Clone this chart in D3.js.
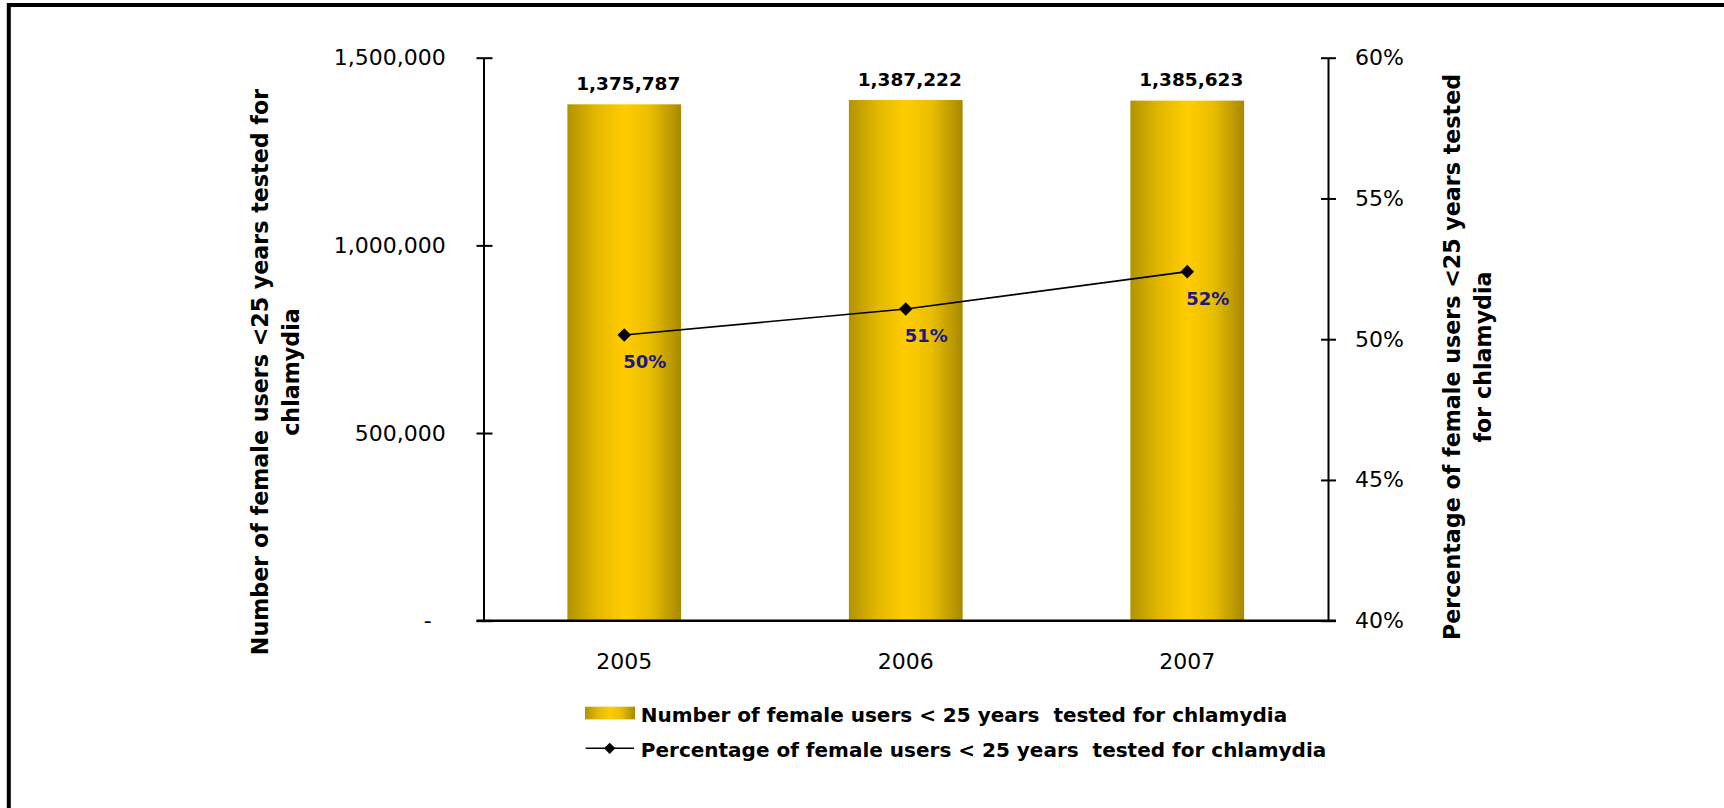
<!DOCTYPE html>
<html>
<head>
<meta charset="utf-8">
<script src="https://cdn.jsdelivr.net/npm/d3@7"></script>
<style>
  body { margin: 0; background: #fff; }
  text { white-space: pre; }
</style>
</head>
<body>
<svg id="chart" width="1724" height="808"></svg>
<script>
// Chlamydia testing among female users under 25, by year
const years = ["2005", "2006", "2007"];
const testedCounts = [1375787, 1387222, 1385623];
const testedShares = [0.5015, 0.5107, 0.5240];
const countTicks = [0, 500000, 1000000, 1500000];
const shareTicks = [0.40, 0.45, 0.50, 0.55, 0.60];
const countTitle = ["Number of female users <25 years tested for", "chlamydia"];
const shareTitle = ["Percentage of female users <25 years tested", "for chlamydia"];
const legendLabels = [
  "Number of female users < 25 years  tested for chlamydia",
  "Percentage of female users < 25 years  tested for chlamydia"
];

const svg = d3.select("#chart");
const plot = { left: 483.5, right: 1328, top: 57.7, bottom: 620.7 };
const tickFont = "'DejaVu Sans', Verdana, sans-serif";

const x = d3.scaleBand().domain(years)
  .range([plot.left, plot.right])
  .paddingInner(0.596).paddingOuter(0.298);
const yCount = d3.scaleLinear().domain([0, 1500000]).range([plot.bottom, plot.top]);
const yShare = d3.scaleLinear().domain([0.40, 0.60]).range([plot.bottom, plot.top]);
const cx = d => x(d) + x.bandwidth() / 2;

// gold metallic fill for the bars
const defs = svg.append("defs");
const grad = defs.append("linearGradient").attr("id", "barGold")
  .attr("x1", 0).attr("x2", 1).attr("y1", 0).attr("y2", 0);
[[0, "#b09300"], [0.25, "#e2b800"], [0.5, "#ffcc00"], [0.72, "#eabf00"], [1, "#a88900"]]
  .forEach(([o, c]) => grad.append("stop").attr("offset", o).attr("stop-color", c));

// outer frame
svg.append("rect").attr("x", 8.8).attr("y", 5).attr("width", 1800).attr("height", 900)
  .attr("fill", "none").attr("stroke", "#000").attr("stroke-width", 4);

// bars
svg.append("g").selectAll("rect").data(years).join("rect")
  .attr("x", d => x(d))
  .attr("y", (d, i) => yCount(testedCounts[i]))
  .attr("width", x.bandwidth())
  .attr("height", (d, i) => yCount(0) - yCount(testedCounts[i]))
  .attr("fill", "url(#barGold)");

// left axis (counts)
const axL = svg.append("g").attr("transform", `translate(${plot.left},0)`)
  .call(d3.axisLeft(yCount).tickValues(countTicks).tickSize(7).tickSizeOuter(0)
    .tickFormat(d => d === 0 ? "-  " : d3.format(",")(d)));
axL.attr("font-family", tickFont).attr("font-size", 22);
axL.select(".domain").attr("stroke", "#000").attr("stroke-width", 2);
axL.selectAll(".tick line").attr("x1", -7).attr("x2", 9).attr("stroke", "#000").attr("stroke-width", 2);
axL.selectAll(".tick text").attr("x", -37.8).attr("fill", "#000");

// right axis (percentages)
const axR = svg.append("g").attr("transform", `translate(${plot.right},0)`)
  .call(d3.axisRight(yShare).tickValues(shareTicks).tickSize(8).tickSizeOuter(0)
    .tickFormat(d3.format(".0%")));
axR.attr("font-family", tickFont).attr("font-size", 22);
axR.select(".domain").attr("stroke", "#000").attr("stroke-width", 2);
axR.selectAll(".tick line").attr("x1", -7).attr("x2", 8).attr("stroke", "#000").attr("stroke-width", 2);
axR.selectAll(".tick text").attr("x", 27).attr("fill", "#000");

// category axis
svg.append("line")
  .attr("x1", plot.left - 7).attr("x2", plot.right + 8)
  .attr("y1", plot.bottom).attr("y2", plot.bottom)
  .attr("stroke", "#000").attr("stroke-width", 2.5);
const axB = svg.append("g").attr("transform", `translate(0,${plot.bottom})`)
  .call(d3.axisBottom(x).tickSize(0));
axB.attr("font-family", tickFont).attr("font-size", 22);
axB.select(".domain").remove();
axB.selectAll(".tick text").attr("y", 48.6).attr("dy", 0).attr("fill", "#000");

// value labels above bars
svg.append("g").selectAll("text").data(years).join("text")
  .attr("x", d => cx(d) + 4)
  .attr("y", (d, i) => yCount(testedCounts[i]) - 14.5)
  .attr("text-anchor", "middle")
  .attr("font-family", tickFont).attr("font-weight", "bold").attr("font-size", 18.5)
  .attr("fill", "#000")
  .text((d, i) => d3.format(",")(testedCounts[i]));

// percentage line with diamond markers
const line = d3.line().x((d, i) => cx(years[i])).y(d => yShare(d));
svg.append("path").datum(testedShares)
  .attr("d", line).attr("fill", "none").attr("stroke", "#000").attr("stroke-width", 1.6);
const diamond = d3.symbol(d3.symbolSquare, 92);
svg.append("g").selectAll("path").data(testedShares).join("path")
  .attr("d", diamond)
  .attr("transform", (d, i) => `translate(${cx(years[i])},${yShare(d)}) rotate(45)`)
  .attr("fill", "#000");
svg.append("g").selectAll("text").data(testedShares).join("text")
  .attr("x", (d, i) => cx(years[i]) - 1)
  .attr("y", d => yShare(d) + 33)
  .attr("font-family", tickFont).attr("font-weight", "bold").attr("font-size", 18)
  .attr("fill", "#1a1a80")
  .text(d => d3.format(".0%")(d));

// axis titles
function rotatedTitle(lines, xs, cy) {
  lines.forEach((t, i) => {
    svg.append("text")
      .attr("transform", `translate(${xs[i]},${cy}) rotate(-90)`)
      .attr("text-anchor", "middle")
      .attr("font-family", tickFont).attr("font-weight", "bold").attr("font-size", 22.2)
      .attr("fill", "#000")
      .text(t);
  });
}
rotatedTitle(countTitle, [268, 299], 372);
rotatedTitle(shareTitle, [1460, 1491], 357);

// legend
const lg = svg.append("g").attr("font-family", tickFont).attr("font-weight", "bold").attr("font-size", 20);
lg.append("rect").attr("x", 585).attr("y", 706.7).attr("width", 50).attr("height", 12.7)
  .attr("fill", "url(#barGold)");
lg.append("text").attr("x", 640.8).attr("y", 722.3).attr("fill", "#000").text(legendLabels[0]);
lg.append("line").attr("x1", 585.7).attr("x2", 634).attr("y1", 748.3).attr("y2", 748.3)
  .attr("stroke", "#000").attr("stroke-width", 1.6);
lg.append("path").attr("d", d3.symbol(d3.symbolSquare, 64))
  .attr("transform", "translate(609.7,748.3) rotate(45)").attr("fill", "#000");
lg.append("text").attr("x", 640.8).attr("y", 756.7).attr("fill", "#000").text(legendLabels[1]);
</script>
</body>
</html>
